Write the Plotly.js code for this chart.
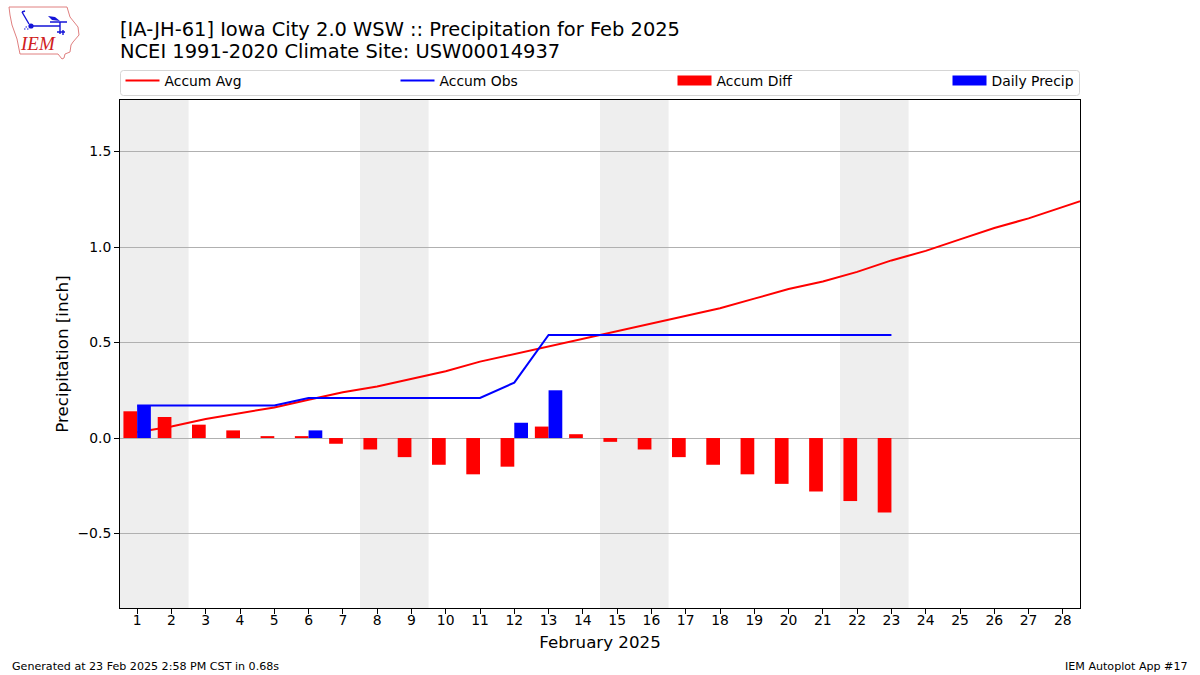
<!DOCTYPE html>
<html>
<head>
<meta charset="utf-8">
<script src="https://cdn.plot.ly/plotly-3.0.1.min.js"></script>
<style>
  html, body { margin: 0; padding: 0; background: #fff; }
  #plot { width: 1200px; height: 675px; }
</style>
</head>
<body>
<div id="plot"></div>
<script>
const days = [1, 2, 3, 4, 5, 6, 7, 8, 9, 10, 11, 12, 13, 14, 15, 16, 17, 18, 19, 20, 21, 22, 23, 24, 25, 26, 27, 28, 29];
const accumAvg = [0.03, 0.06, 0.10, 0.13, 0.16, 0.20, 0.24, 0.27, 0.31, 0.35, 0.40, 0.44, 0.48, 0.52, 0.56, 0.60, 0.64, 0.68, 0.73, 0.78, 0.82, 0.87, 0.93, 0.98, 1.04, 1.10, 1.15, 1.21, 1.27];
const obsDays = days.slice(0, 23);
const accumObs = [0.17, 0.17, 0.17, 0.17, 0.17, 0.21, 0.21, 0.21, 0.21, 0.21, 0.21, 0.29, 0.54, 0.54, 0.54, 0.54, 0.54, 0.54, 0.54, 0.54, 0.54, 0.54, 0.54];
const accumDiff = [0.14, 0.11, 0.07, 0.04, 0.01, 0.01, -0.03, -0.06, -0.10, -0.14, -0.19, -0.15, 0.06, 0.02, -0.02, -0.06, -0.10, -0.14, -0.19, -0.24, -0.28, -0.33, -0.39];
const dailyPrecip = [0.17, 0, 0, 0, 0, 0.04, 0, 0, 0, 0, 0, 0.08, 0.25, 0, 0, 0, 0, 0, 0, 0, 0, 0, 0];
const weekends = [[0.5, 2.5], [7.5, 9.5], [14.5, 16.5], [21.5, 23.5]];
const tickDays = days.slice(0, 28);
const yRange = [-0.89, 1.77];

const FONT = '"DejaVu Sans", sans-serif';
const PLOT_L = 120, PLOT_R = 1080, PLOT_T = 100, PLOT_B = 608;

// page pixels to paper fractions, for everything that sits outside the axes
const px = x => (x - PLOT_L) / (PLOT_R - PLOT_L);
const py = y => (PLOT_B - y) / (PLOT_B - PLOT_T);

// Iowa outline and station model, drawn in the logo's own 80x60 box
const logoSvg = `<svg xmlns="http://www.w3.org/2000/svg" width="80" height="60" viewBox="0 0 80 60">
<path d="M4 5 L62 5 L65 15 L73 25 L74 33 L68 40 L66 43 L65 50 L60 52 L59 56 L57 57 L53 52 L15 52 L12 37 L7 23 L5 13 Z" fill="none" stroke="#e08080" stroke-width="1"/>
<path d="M26 24 L55 24 M17 10 L24 22 M17 10 L20 9 M45 20 L62 20 M55 20 L55 32 M58 28 L58 33 M52 30 L60 30" fill="none" stroke="#1414d8" stroke-width="1.4"/>
<path d="M43 14 L50 15 L55 19 L47 18 Z" fill="#1414d8"/>
<circle cx="26" cy="24" r="2.6" fill="#1414d8"/>
<path d="M19 27 h1.5 M22 27 h1.5 M20.5 25 h1.5" fill="none" stroke="#1414d8" stroke-width="1.2"/>
</svg>`;

// the bars go on an overlaying y axis so they sit on top of the lines
const traces = [
    { x: days, y: accumAvg, type: 'scatter', mode: 'lines', name: 'Accum Avg', line: { color: '#ff0000', width: 2 }, legend: 'legend' },
    { x: obsDays, y: accumObs, type: 'scatter', mode: 'lines', name: 'Accum Obs', line: { color: '#0000ff', width: 2 }, legend: 'legend2' },
    { x: obsDays, y: accumDiff, yaxis: 'y2', type: 'bar', name: 'Accum Diff', width: 0.4, offset: -0.4, marker: { color: '#ff0000', line: { width: 0 } }, showlegend: false },
    { x: obsDays, y: dailyPrecip, yaxis: 'y2', type: 'bar', name: 'Daily Precip', width: 0.4, offset: 0, marker: { color: '#0000ff', line: { width: 0 } }, showlegend: false },
    // empty traces, only here for the wide legend swatches of the bars
    { x: [null], y: [null], type: 'scatter', mode: 'lines', name: 'Accum Diff', line: { color: '#ff0000', width: 10 }, legend: 'legend3' },
    { x: [null], y: [null], type: 'scatter', mode: 'lines', name: 'Daily Precip', line: { color: '#0000ff', width: 10 }, legend: 'legend4' }
];

const shapes = weekends.map(w => ({
    type: 'rect', xref: 'x', yref: 'paper', x0: w[0], x1: w[1], y0: 0, y1: 1,
    fillcolor: '#eeeeee', line: { width: 0 }, layer: 'below'
}));

// rounded box behind the legend row
const boxL = 120.5, boxR = 1079.5, boxT = 70.5, boxB = 95.5, r = 3;
shapes.push({
    type: 'path', xref: 'paper', yref: 'paper', line: { color: '#d5d5d5', width: 1 },
    path: `M ${px(boxL + r)} ${py(boxT)} L ${px(boxR - r)} ${py(boxT)} Q ${px(boxR)} ${py(boxT)} ${px(boxR)} ${py(boxT + r)}` +
          ` L ${px(boxR)} ${py(boxB - r)} Q ${px(boxR)} ${py(boxB)} ${px(boxR - r)} ${py(boxB)}` +
          ` L ${px(boxL + r)} ${py(boxB)} Q ${px(boxL)} ${py(boxB)} ${px(boxL)} ${py(boxB - r)}` +
          ` L ${px(boxL)} ${py(boxT + r)} Q ${px(boxL)} ${py(boxT)} ${px(boxL + r)} ${py(boxT)} Z`
});

function legendAt(x) {
    return {
        orientation: 'h', x: px(x), xanchor: 'left', y: py(81), yanchor: 'middle',
        itemwidth: 34, bgcolor: 'rgba(0,0,0,0)', borderwidth: 0,
        font: { size: 13.9 }, itemclick: false, itemdoubleclick: false
    };
}

const layout = {
    width: 1200,
    height: 675,
    autosize: false,
    paper_bgcolor: '#ffffff',
    plot_bgcolor: '#ffffff',
    font: { family: FONT, size: 13.9, color: '#000000' },
    margin: { l: PLOT_L, r: 1200 - PLOT_R, t: PLOT_T, b: 675 - PLOT_B, pad: 0 },
    barmode: 'overlay',
    showlegend: true,
    title: {
        text: '[IA-JH-61] Iowa City 2.0 WSW :: Precipitation for Feb 2025',
        font: { family: FONT, size: 19.45, color: '#000000' },
        x: 120 / 1200, xanchor: 'left', xref: 'container',
        y: 1 - 29 / 675, yanchor: 'middle', yref: 'container'
    },
    xaxis: {
        range: [0.5, 28.5],
        tickmode: 'array', tickvals: tickDays, ticktext: tickDays.map(String),
        ticks: 'outside', ticklen: 5, tickwidth: 1, tickcolor: '#000000',
        ticklabelstandoff: -6,
        showgrid: false, zeroline: false,
        showline: true, mirror: true, linecolor: '#000000', linewidth: 1,
        title: { text: 'February 2025', font: { size: 16.67 }, standoff: 9 }
    },
    yaxis: {
        range: yRange,
        tickmode: 'array', tickvals: [-0.5, 0, 0.5, 1, 1.5], ticktext: ['\u22120.5', '0.0', '0.5', '1.0', '1.5'],
        ticks: 'outside', ticklen: 5, tickwidth: 1, tickcolor: '#000000',
        showgrid: true, gridcolor: '#b0b0b0', gridwidth: 1, zeroline: false,
        showline: true, mirror: true, linecolor: '#000000', linewidth: 1,
        title: { text: 'Precipitation [inch]', font: { size: 16.67 }, standoff: 4 }
    },
    yaxis2: {
        range: yRange, overlaying: 'y', side: 'left', visible: false
    },
    legend: legendAt(120.5),
    legend2: legendAt(395.5),
    legend3: legendAt(672.5),
    legend4: legendAt(947.5),
    shapes: shapes,
    images: [{
        source: 'data:image/svg+xml;base64,' + btoa(logoSvg),
        xref: 'paper', yref: 'paper', xanchor: 'left', yanchor: 'top',
        x: px(5), y: py(2), sizex: 80 / 960, sizey: 60 / 508, sizing: 'stretch', layer: 'above'
    }],
    annotations: [
        { text: 'NCEI 1991-2020 Climate Site: USW00014937', xref: 'paper', yref: 'paper', x: px(119), y: py(51.5), showarrow: false, xanchor: 'left', yanchor: 'middle',
          borderpad: 0, font: { size: 19.45 } },
        { text: 'IEM', xref: 'paper', yref: 'paper', x: px(38), y: py(44), showarrow: false, xanchor: 'center', yanchor: 'middle',
          borderpad: 0, font: { family: '"Liberation Serif", serif', size: 19, style: 'italic', color: '#d02020' } },
        { text: 'Generated at 23 Feb 2025 2:58 PM CST in 0.68s', xref: 'paper', yref: 'paper', x: px(11), y: py(666), showarrow: false, xanchor: 'left', yanchor: 'middle',
          borderpad: 0, font: { size: 11.1 } },
        { text: 'IEM Autoplot App #17', xref: 'paper', yref: 'paper', x: px(1189), y: py(666), showarrow: false, xanchor: 'right', yanchor: 'middle',
          borderpad: 0, font: { size: 11.1 } }
    ]
};

Plotly.newPlot('plot', traces, layout, { displayModeBar: false, staticPlot: true });
</script>
</body>
</html>
